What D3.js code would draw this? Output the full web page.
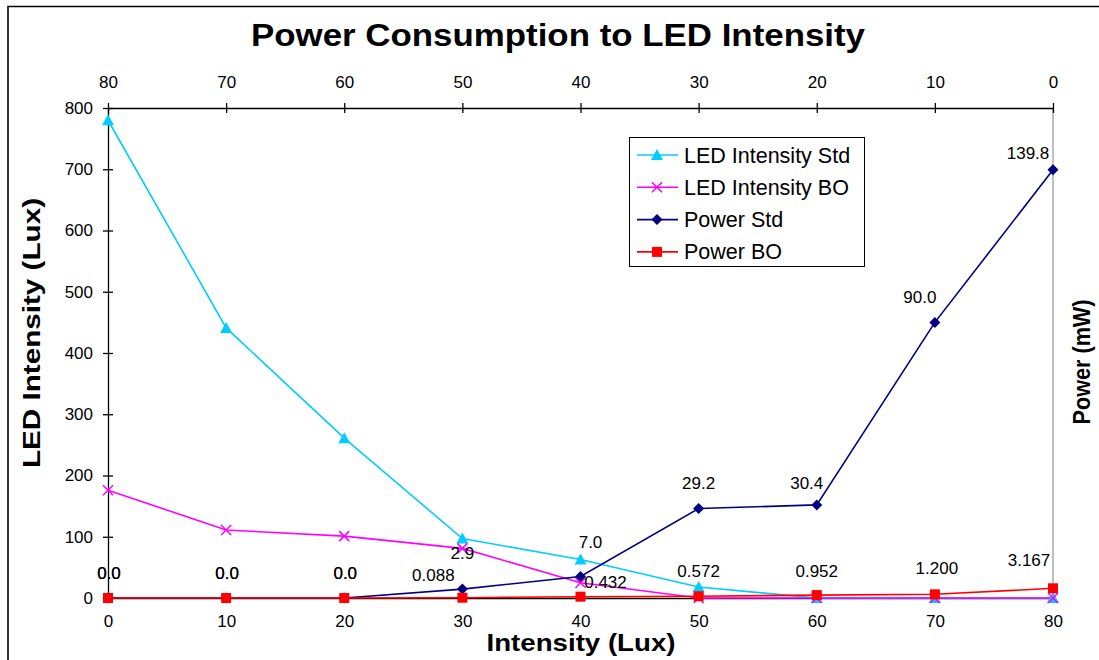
<!DOCTYPE html>
<html>
<head>
<meta charset="utf-8">
<script src="https://cdn.jsdelivr.net/npm/d3@7"></script>
<style>
  html, body { margin: 0; padding: 0; background: #fff; }
  svg { display: block; font-family: "Liberation Sans", Arial, sans-serif; }
</style>
</head>
<body>
<svg id="chart" width="1099" height="660"></svg>
<script>
// Measured intensity steps (Lux)
const intensity = [0, 10, 20, 30, 40, 50, 60, 70, 80];
// Secondary (top) axis labels run the other way
const topTicks = [80, 70, 60, 50, 40, 30, 20, 10, 0];
const leftTicks = [0, 100, 200, 300, 400, 500, 600, 700, 800];

// LED intensity readings (Lux)
const ledStd = [780, 441, 261, 97, 63, 18, 0, 0, 0];
const ledBO = [176, 111, 101, 81, 25, 0, 0, 0, 0];
// Power readings (mW)
const powerStd = [0.0, 0.0, 0.0, 2.9, 7.0, 29.2, 30.4, 90.0, 139.8];
const powerBO = [0.0, 0.0, 0.0, 0.088, 0.432, 0.572, 0.952, 1.200, 3.167];
const powerStdLabels = ["0.0", "0.0", "0.0", "2.9", "7.0", "29.2", "30.4", "90.0", "139.8"];
const powerBOLabels = ["0.0", "0.0", "0.0", "0.088", "0.432", "0.572", "0.952", "1.200", "3.167"];

const svg = d3.select("#chart");
const plot = { left: 108, right: 1053, top: 108, bottom: 598 };

const x = d3.scaleLinear().domain([0, 80]).range([plot.left, plot.right]);
const xTop = d3.scaleLinear().domain([80, 0]).range([plot.left, plot.right]);
const yL = d3.scaleLinear().domain([0, 800]).range([plot.bottom, plot.top]);
const yR = d3.scaleLinear().domain([0, 160]).range([plot.bottom, plot.top]);

// Outer chart frame
svg.append("path")
  .attr("d", "M8,662 L8,6.5 L1101,6.5")
  .attr("fill", "none").attr("stroke", "#000").attr("stroke-width", 1.6);

// Title
svg.append("text")
  .attr("x", 558).attr("y", 46)
  .attr("text-anchor", "middle")
  .attr("font-size", 32).attr("font-weight", "bold")
  .attr("textLength", 614).attr("lengthAdjust", "spacingAndGlyphs")
  .text("Power Consumption to LED Intensity");

// Right-hand (power) axis line, no ticks
svg.append("line")
  .attr("x1", plot.right).attr("x2", plot.right)
  .attr("y1", plot.top).attr("y2", plot.bottom)
  .attr("stroke", "#808080").attr("stroke-width", 1);

// Top axis
const gTop = svg.append("g").attr("transform", `translate(0,${plot.top})`)
  .call(d3.axisTop(xTop).tickValues(topTicks).tickSize(5).tickSizeOuter(0).tickPadding(15).tickFormat(d3.format("d")));
gTop.selectAll(".tick line").attr("y2", 5).attr("y1", -5);
// Left axis
const gLeft = svg.append("g").attr("transform", `translate(${plot.left},0)`)
  .call(d3.axisLeft(yL).tickValues(leftTicks).tickSize(5).tickSizeOuter(0).tickPadding(10).tickFormat(d3.format("d")));
gLeft.selectAll(".tick line").attr("x2", 5).attr("x1", -5);
// Bottom axis
const gBottom = svg.append("g").attr("transform", `translate(0,${plot.bottom})`)
  .call(d3.axisBottom(x).tickValues(intensity).tickSize(0).tickSizeOuter(0).tickPadding(17).tickFormat(d3.format("d")));

[gTop, gLeft, gBottom].forEach(g => {
  g.select(".domain").attr("stroke", "#000").attr("stroke-width", 1.3);
  g.selectAll(".tick line").attr("stroke", "#000").attr("stroke-width", 1.3);
  g.selectAll(".tick text").attr("font-size", 17).attr("fill", "#000")
    .attr("font-family", "'Liberation Sans', Arial, sans-serif");
});

// Axis titles
svg.append("text")
  .attr("x", 581).attr("y", 651)
  .attr("text-anchor", "middle")
  .attr("font-size", 23).attr("font-weight", "bold")
  .attr("textLength", 189).attr("lengthAdjust", "spacingAndGlyphs")
  .text("Intensity (Lux)");
svg.append("text")
  .attr("transform", "translate(40,333) rotate(-90)")
  .attr("text-anchor", "middle")
  .attr("font-size", 24).attr("font-weight", "bold")
  .attr("textLength", 270).attr("lengthAdjust", "spacingAndGlyphs")
  .text("LED Intensity (Lux)");
svg.append("text")
  .attr("transform", "translate(1090,362) rotate(-90)")
  .attr("text-anchor", "middle")
  .attr("font-size", 24).attr("font-weight", "bold")
  .attr("textLength", 125).attr("lengthAdjust", "spacingAndGlyphs")
  .text("Power (mW)");

// Series definitions
const series = [
  { name: "LED Intensity Std", values: ledStd, y: yL, color: "#00CCFF", marker: "triangle" },
  { name: "LED Intensity BO", values: ledBO, y: yL, color: "#FF00FF", marker: "cross" },
  { name: "Power Std", values: powerStd, y: yR, color: "#000080", marker: "diamond" },
  { name: "Power BO", values: powerBO, y: yR, color: "#FF0000", marker: "square" }
];

function drawMarker(g, type, color) {
  if (type === "triangle") {
    g.append("path").attr("d", "M0,-6 L6,5 L-6,5 Z").attr("fill", color);
  } else if (type === "cross") {
    g.append("path").attr("d", "M-5,-5 L5,5 M-5,5 L5,-5")
      .attr("stroke", color).attr("stroke-width", 1.5).attr("fill", "none");
  } else if (type === "diamond") {
    g.append("path").attr("d", "M0,-5.5 L5.5,0 L0,5.5 L-5.5,0 Z").attr("fill", color);
  } else if (type === "square") {
    g.append("rect").attr("x", -5).attr("y", -5).attr("width", 10).attr("height", 10).attr("fill", color);
  }
}

const lineGen = yScale => d3.line().x((d, i) => x(intensity[i])).y(d => yScale(d));

series.forEach(s => {
  svg.append("path")
    .datum(s.values)
    .attr("d", lineGen(s.y))
    .attr("fill", "none").attr("stroke", s.color).attr("stroke-width", 1.6);
});
series.forEach(s => {
  s.values.forEach((v, i) => {
    const g = svg.append("g").attr("transform", `translate(${x(intensity[i])},${s.y(v)})`);
    drawMarker(g, s.marker, s.color);
  });
});

// Data labels for the power series, nudged clear of the lines
const stdLabelShift = [[1, -25], [1, -25], [1, -25], [0, -36], [10, -35], [0, -26], [-10, -22], [-15, -25], [-25, -17]];
const boLabelShift = [[1, -25], [1, -25], [1, -25], [-29, -23], [25, -15], [0, -25], [0, -24], [2, -26], [-24, -28]];

function drawLabels(values, labels, shifts) {
  svg.append("g").selectAll("text")
    .data(values)
    .join("text")
    .attr("x", (d, i) => x(intensity[i]) + shifts[i][0])
    .attr("y", (d, i) => yR(d) + shifts[i][1])
    .attr("dy", "0.35em")
    .attr("text-anchor", "middle")
    .attr("font-size", 17)
    .text((d, i) => labels[i]);
}
drawLabels(powerStd, powerStdLabels, stdLabelShift);
drawLabels(powerBO, powerBOLabels, boLabelShift);

// Legend
const legend = svg.append("g").attr("transform", "translate(629,137)");
legend.append("rect")
  .attr("x", 0.5).attr("y", 0.5).attr("width", 235).attr("height", 129)
  .attr("fill", "#fff").attr("stroke", "#000").attr("stroke-width", 1);
series.forEach((s, i) => {
  const row = legend.append("g").attr("transform", `translate(0,${18 + i * 32.3})`);
  row.append("line").attr("x1", 8).attr("x2", 49).attr("y1", 0).attr("y2", 0)
    .attr("stroke", s.color).attr("stroke-width", 1.6);
  const m = row.append("g").attr("transform", "translate(28,0)");
  drawMarker(m, s.marker, s.color);
  row.append("text").attr("x", 55).attr("y", 0).attr("dy", "0.35em")
    .attr("font-size", 21.5).text(s.name);
});
</script>
</body>
</html>
